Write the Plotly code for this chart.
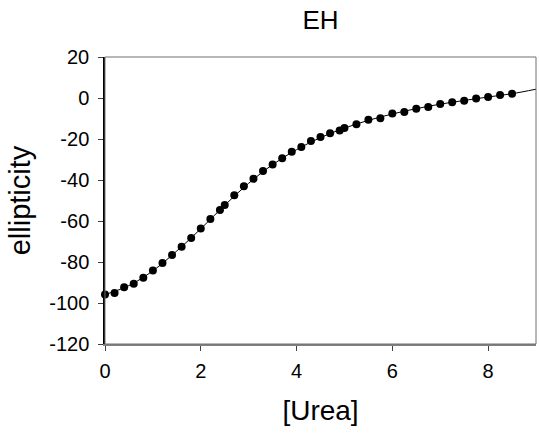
import plotly.graph_objects as go

# Data
urea = [0.0, 0.2, 0.4, 0.6, 0.8, 1.0, 1.2, 1.4, 1.6, 1.8, 2.0, 2.2, 2.4, 2.5,
        2.7, 2.9, 3.1, 3.3, 3.5, 3.7, 3.9, 4.1, 4.3, 4.5, 4.7, 4.9, 5.0,
        5.25, 5.5, 5.75, 6.0, 6.25, 6.5, 6.75, 7.0, 7.25, 7.5, 7.75, 8.0,
        8.25, 8.5]
ellipticity = [-95.8, -95.1, -92.3, -90.6, -87.7, -84.1, -80.5, -76.6, -72.5,
               -68.3, -63.7, -59.0, -54.6, -52.2, -47.4, -43.0, -39.4, -35.6,
               -32.4, -29.4, -26.2, -23.9, -21.0, -19.0, -17.2, -15.8, -14.6,
               -12.8, -10.6, -9.9, -7.6, -6.8, -5.2, -4.4, -2.9, -2.1, -1.3,
               -0.3, 0.5, 1.5, 2.1]

# Fitted curve
fit_x = [0, 0.5, 1, 1.5, 2, 2.5, 3, 3.5, 4, 4.5, 5, 5.5, 6, 6.5, 7, 7.5, 8, 8.5, 9]
fit_y = [-95.9, -91.5, -84.3, -74.6, -63.8, -52.3, -41.6, -32.5, -25.2, -19.3,
         -14.7, -10.9, -7.8, -5.2, -3.0, -1.2, 0.5, 2.1, 4.3]

x_ticks = [0, 2, 4, 6, 8]
y_ticks = [20, 0, -20, -40, -60, -80, -100, -120]

FONT = "Liberation Sans, Arial, sans-serif"

fig = go.Figure()
fig.add_trace(go.Scatter(x=fit_x, y=fit_y, mode="lines",
                         line=dict(color="black", width=1, shape="spline"),
                         showlegend=False, hoverinfo="skip"))
fig.add_trace(go.Scatter(x=urea, y=ellipticity, mode="markers",
                         marker=dict(color="black", size=8),
                         showlegend=False, cliponaxis=False))

fig.update_layout(
    width=539, height=435,
    margin=dict(l=105, r=3, t=57, b=91),
    paper_bgcolor="white", plot_bgcolor="white",
    font=dict(family=FONT, color="black"),
    title=dict(text="EH", x=(105 + 536) / 2 / 539, xanchor="center",
               y=1 - 20 / 435, yanchor="middle",
               font=dict(size=26, family=FONT, color="black")),
    shapes=[dict(type="rect", xref="paper", yref="paper", x0=0, x1=1, y0=0, y1=1,
                 line=dict(color="#707070", width=1), layer="above")],
)

fig.update_xaxes(
    range=[0, 9], tickvals=x_ticks, ticktext=[str(v) for v in x_ticks],
    showgrid=False, zeroline=False,
    showline=True, linecolor="#808080", linewidth=2,
    ticks="outside", ticklen=5, tickcolor="#404040", tickwidth=1,
    ticklabelstandoff=3,
    tickfont=dict(size=20, family=FONT, color="black"),
    title=dict(text="[Urea]", font=dict(size=28, family=FONT, color="black"),
               standoff=19),
)
fig.update_yaxes(
    range=[-120, 20], tickvals=y_ticks, ticktext=[str(v) for v in y_ticks],
    showgrid=False, zeroline=False,
    showline=True, linecolor="black", linewidth=1.5,
    ticks="outside", ticklen=5, tickcolor="#404040", tickwidth=1,
    ticklabelstandoff=5,
    tickfont=dict(size=20, family=FONT, color="black"),
    title=dict(text="ellipticity", font=dict(size=29, family=FONT, color="black"),
               standoff=10),
)

fig.write_html("out.html")
